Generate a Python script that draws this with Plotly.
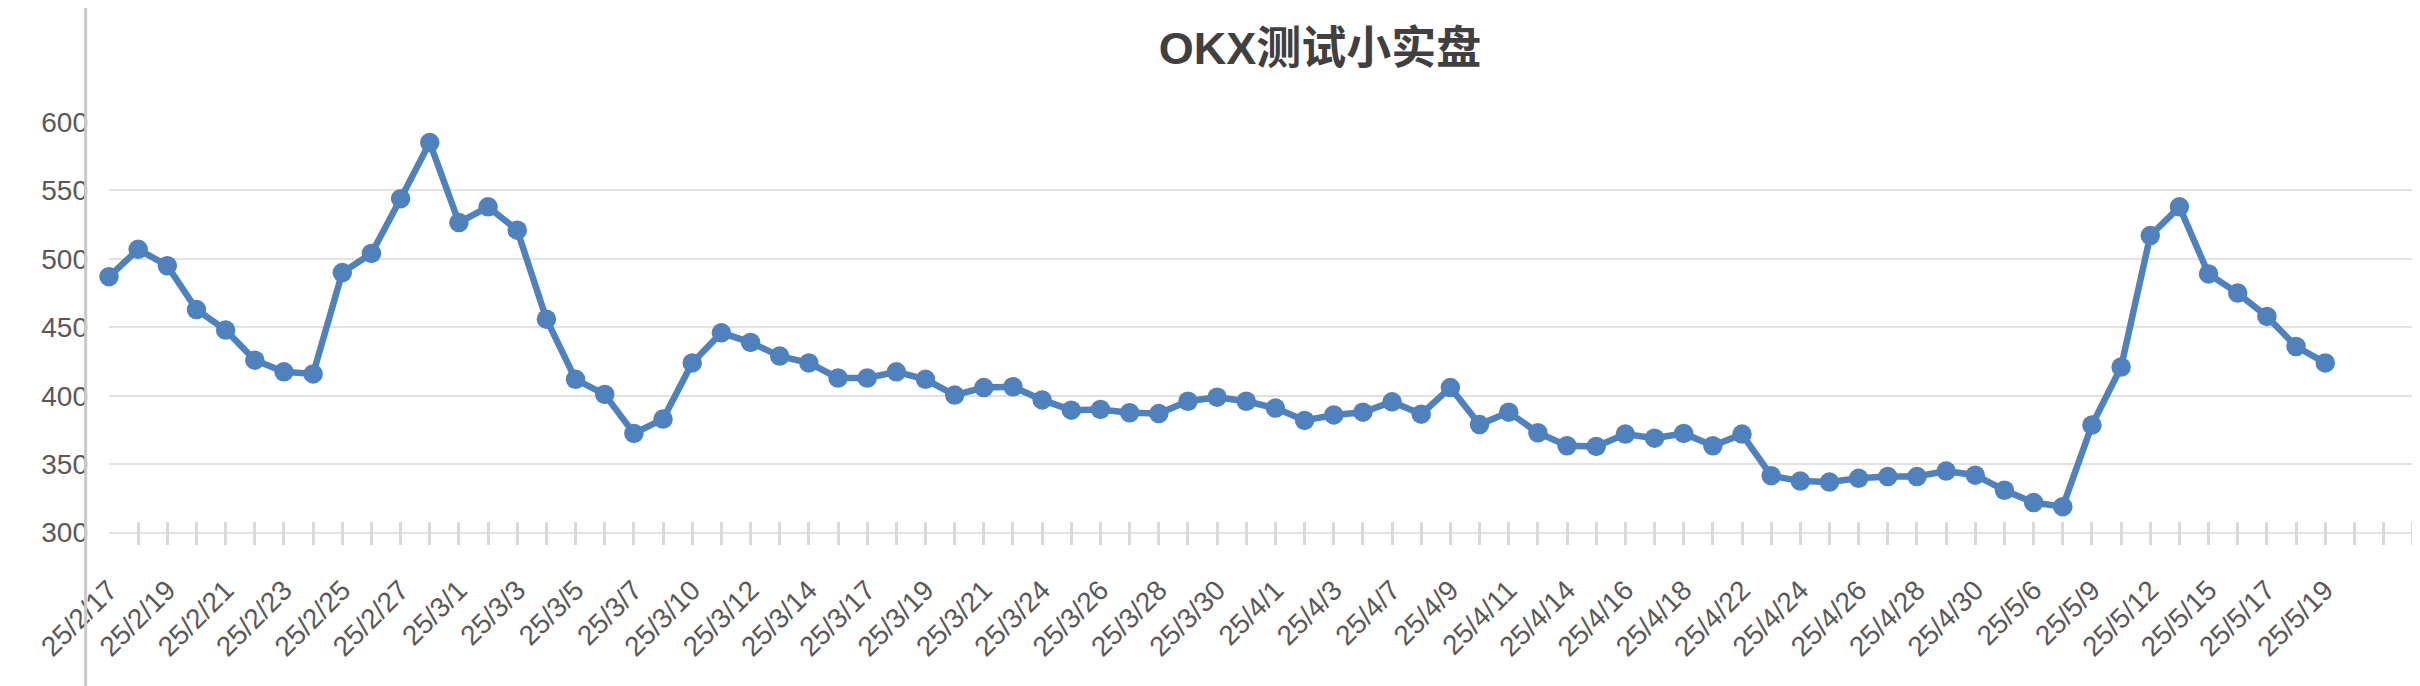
import plotly.graph_objects as go

# dates (x categories) and account value
dates = [
    "25/2/17", "25/2/18", "25/2/19", "25/2/20", "25/2/21", "25/2/22", "25/2/23", "25/2/24",
    "25/2/25", "25/2/26", "25/2/27", "25/2/28", "25/3/1", "25/3/2", "25/3/3", "25/3/4",
    "25/3/5", "25/3/6", "25/3/7", "25/3/9", "25/3/10", "25/3/11", "25/3/12", "25/3/13",
    "25/3/14", "25/3/16", "25/3/17", "25/3/18", "25/3/19", "25/3/20", "25/3/21", "25/3/23",
    "25/3/24", "25/3/25", "25/3/26", "25/3/27", "25/3/28", "25/3/29", "25/3/30", "25/3/31",
    "25/4/1", "25/4/2", "25/4/3", "25/4/6", "25/4/7", "25/4/8", "25/4/9", "25/4/10",
    "25/4/11", "25/4/13", "25/4/14", "25/4/15", "25/4/16", "25/4/17", "25/4/18", "25/4/21",
    "25/4/22", "25/4/23", "25/4/24", "25/4/25", "25/4/26", "25/4/27", "25/4/28", "25/4/29",
    "25/4/30", "25/5/5", "25/5/6", "25/5/8", "25/5/9", "25/5/11", "25/5/12", "25/5/14",
    "25/5/15", "25/5/16", "25/5/17", "25/5/18", "25/5/19",
]
# empty rows at the end of the sheet (axis keeps room for them)
empty_dates = ["25/5/20", "25/5/21", "25/5/22"]

values = [
    487, 507, 495, 463, 448, 426, 417.5, 416, 490, 504, 544, 585, 526.5,
    538, 521, 456, 412, 401, 372.5, 383, 424, 446, 439, 429, 424, 413, 413,
    417.5, 412, 400.5, 406, 406.6, 397, 389.5, 390, 387.6, 387, 396, 399, 396, 391,
    382, 386, 388, 395.6, 386.6, 406, 379, 388, 373, 363.5, 363, 372, 369, 372.5,
    363.5, 372, 341.6, 337.7, 337, 339.7, 341, 341, 345, 342, 331, 322, 319,
    378.6, 421, 517, 538, 489, 475, 458, 436, 424,
]

y_ticks = [300, 350, 400, 450, 500, 550, 600]

all_cats = dates + empty_dates
# label every other date, like excel does
tick_text = [d if (i % 2 == 0 and i < len(dates)) else "" for i, d in enumerate(all_cats)]

blue = "#4f81bd"
grey_txt = "#595959"

# page body has an 8px margin, so the figure is made 8px smaller
W, H = 2412, 678

fig = go.Figure()
fig.add_trace(go.Scatter(
    x=dates, y=values, mode="lines+markers",
    line=dict(color=blue, width=6.5),
    marker=dict(color=blue, size=19.5),
    cliponaxis=False,
    showlegend=False,
))

fig.update_layout(
    width=W, height=H,
    margin=dict(l=101, r=0, t=114, b=141),
    paper_bgcolor="white", plot_bgcolor="white",
    font=dict(family="Liberation Sans, Arial, sans-serif", size=28, color=grey_txt),
    title=dict(
        text="<b>OKX测试小实盘</b>",
        font=dict(family="Liberation Sans, Noto Sans CJK SC, sans-serif", size=45, color="#404040"),
        x=1312 / W, xref="container", xanchor="center",
        y=1 - 40 / H, yref="container", yanchor="middle",
    ),
)

fig.update_xaxes(
    type="category", categoryorder="array", categoryarray=all_cats,
    tickmode="array", tickvals=all_cats, ticktext=tick_text,
    range=[0, 79.25],
    tickangle=-45,
    ticks="inside", ticklen=23, tickwidth=2.5, tickcolor="#d9d9d9",
    showgrid=False, showline=False, zeroline=False,
    automargin=False,
    ticklabelstandoff=22,
    tickfont=dict(size=28, color=grey_txt),
)
fig.update_yaxes(
    range=[291, 600],
    tickmode="array", tickvals=y_ticks,
    showgrid=True, gridcolor="#e2e2e2", gridwidth=2,
    showline=False, zeroline=False, ticks="",
    ticklabelstandoff=20,
    automargin=False,
    tickfont=dict(size=28, color=grey_txt),
)

# grey border line of the chart frame on the left
fig.add_shape(
    type="line", xref="paper", yref="paper",
    x0=-0.0101, x1=-0.0101, y0=-0.5, y1=1.5,
    line=dict(color="#c9c9c9", width=3), layer="above",
)

fig.write_html("out.html")
